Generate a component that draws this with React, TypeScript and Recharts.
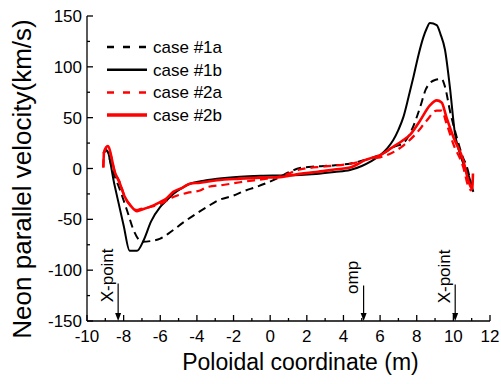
import React from 'react';
import {
  LineChart,
  Line,
  XAxis,
  YAxis,
  ReferenceLine,
} from 'recharts';

// x ticks (every 1 m, labels on even values) and y ticks (every 25, labels every 50)
const xTicks = [-10, -9, -8, -7, -6, -5, -4, -3, -2, -1, 0, 1, 2, 3, 4, 5, 6, 7, 8, 9, 10, 11, 12];
const yTicks = [-150, -125, -100, -75, -50, -25, 0, 25, 50, 75, 100, 125, 150];

// case #1a (black dashed)
const x1a = [-9.1, -8.95, -8.6, -8.18, -7.8, -7.45, -7.0, -6.4, -6.0, -5.4, -4.74, -4.0, -3.47, -2.8, -2.0, -1.4, -0.74, 0.35, 1.1, 1.63, 2.5, 3.45, 4.4, 5.27, 5.8, 6.3, 6.72, 7.27, 7.8, 8.18, 8.5, 8.72, 9.0, 9.36, 9.55, 9.81, 10.18, 10.5, 10.73, 11.0];
const v1a = [15, 18, -2, -22, -42, -61, -72, -71, -69, -62, -53, -44, -38, -31, -26.6, -22, -18, -10, -3, 0.5, 2, 3, 5, 9, 12, 16, 21, 25, 41, 60, 78, 84, 87, 88, 80, 57, 31, 12, 2, -18];

// case #1b (black solid)
const x1b = [-9.1, -8.93, -8.5, -8.0, -7.67, -7.27, -6.92, -6.5, -6.01, -5.63, -5.29, -4.8, -4.38, -3.8, -2.9, -1.65, -0.5, 0.53, 1.63, 2.5, 3.5, 4.36, 5.0, 5.5, 6.0, 6.4, 6.72, 7.0, 7.27, 7.55, 7.82, 8.1, 8.36, 8.55, 8.72, 9.09, 9.3, 9.54, 9.81, 10.09, 10.3, 10.54, 10.8, 11.0, 11.09];
const v1b = [15, 18, -16, -56, -81, -81, -71, -52, -38, -31, -25, -19, -15, -12.5, -10, -8, -7.2, -6.9, -6.5, -5.5, -3.5, -1.5, 2.5, 7, 13, 20, 28, 38, 50.5, 70, 90, 112, 129, 138, 143, 141, 132, 117, 80, 34, 18, 5, -5, -17, -23];

// case #2a (red dashed)
const x2a = [-9.11, -9.07, -8.87, -8.47, -8.2, -7.96, -7.6, -7.27, -7.11, -6.6, -6.01, -5.29, -4.54, -3.83, -3.47, -2.5, -1.65, -0.19, 0.53, 1.63, 3.0, 4.36, 5.63, 6.0, 7.27, 8.0, 8.54, 9.09, 9.36, 9.63, 10.0, 10.54, 10.82, 11.0];
const v2a = [1, 16, 21, -4, -14, -27, -37, -41, -40, -38, -35, -28, -24, -21.6, -18.4, -16, -13.5, -10, -8, -1, 2, 4.6, 10, 11, 22.6, 35, 47, 57, 57, 44, 24, 1.3, -18, -22];

// case #2b (red solid)
const x2b = [-9.11, -9.07, -8.87, -8.47, -8.2, -7.96, -7.6, -7.27, -7.11, -6.6, -6.01, -5.63, -5.29, -4.8, -4.38, -3.83, -2.9, -1.65, -0.5, 0.53, 1.63, 2.5, 3.5, 4.36, 5.27, 5.99, 6.6, 7.27, 7.63, 8.18, 8.72, 9.09, 9.36, 9.63, 10.0, 10.54, 10.82, 11.03, 11.07];
const v2b = [1, 16, 22, -4, -15, -27, -37, -42, -41, -38, -33, -29, -23, -19, -15, -14, -11.5, -10, -9, -8.5, -5.3, -3.5, -1, 1, 9, 13, 20, 28, 33, 47, 62, 67, 65, 50, 31, 8, -12, -20, -5];

const toRows = (xs: number[], vs: number[]) => xs.map((x, i) => ({ x, v: vs[i] }));

const series = [
  { name: 'case #1a', data: toRows(x1a, v1a), color: '#000000', dash: '8 5', width: 2, legendWidth: 2.5, legendDash: '7 9' },
  { name: 'case #1b', data: toRows(x1b, v1b), color: '#000000', dash: undefined, width: 2, legendWidth: 2.5, legendDash: undefined },
  { name: 'case #2a', data: toRows(x2a, v2a), color: '#ff0000', dash: '8 5', width: 2.2, legendWidth: 2.5, legendDash: '7 9' },
  { name: 'case #2b', data: toRows(x2b, v2b), color: '#ff0000', dash: undefined, width: 2.6, legendWidth: 3.5, legendDash: undefined },
];

// annotation arrows: position on x and label
const markers = [
  { x: -8.3, top: -113, label: 'X-point' },
  { x: 5.1, top: -115, label: 'omp' },
  { x: 10.1, top: -114, label: 'X-point' },
];

const FONT = 'Arial, "Liberation Sans", Helvetica, sans-serif';

const BottomTick = (props: any) => {
  const { x, y, payload } = props;
  const major = payload.value % 2 === 0;
  return (
    <g>
      <line x1={x} x2={x} y1={y} y2={y - (major ? 6 : 3)} stroke="#000" strokeWidth={1.3} />
      {major && (
        <text x={x} y={y + 21} textAnchor="middle" fontSize={17} fill="#000" fontFamily={FONT}>
          {payload.value}
        </text>
      )}
    </g>
  );
};

const TopTick = (props: any) => {
  const { x, y, payload } = props;
  const major = payload.value % 2 === 0;
  return <line x1={x} x2={x} y1={y} y2={y + (major ? 6 : 3)} stroke="#000" strokeWidth={1.3} />;
};

const LeftTick = (props: any) => {
  const { x, y, payload } = props;
  const major = payload.value % 50 === 0;
  return (
    <g>
      <line x1={x} x2={x + (major ? 6 : 3)} y1={y} y2={y} stroke="#000" strokeWidth={1.3} />
      {major && (
        <text x={x - 5} y={y + 6} textAnchor="end" fontSize={17} fill="#000" fontFamily={FONT}>
          {payload.value}
        </text>
      )}
    </g>
  );
};

const RightTick = (props: any) => {
  const { x, y, payload } = props;
  const major = payload.value % 50 === 0;
  return <line x1={x} x2={x - (major ? 6 : 3)} y1={y} y2={y} stroke="#000" strokeWidth={1.3} />;
};

const arrowShape = (label: string) => (props: any) => {
  const { x1, y1, y2 } = props;
  const top = Math.min(y1, y2);
  const bottom = Math.max(y1, y2);
  return (
    <g>
      <line x1={x1} x2={x1} y1={top} y2={bottom - 5} stroke="#000" strokeWidth={1.2} />
      <polygon points={`${x1 - 3},${bottom - 8} ${x1 + 3},${bottom - 8} ${x1},${bottom}`} fill="#000" />
      <text
        transform={`translate(${x1 - 11},${top - 8}) rotate(-90)`}
        textAnchor="middle"
        dominantBaseline="central"
        fontSize={17}
        fill="#000"
        fontFamily={FONT}
      >
        {label}
      </text>
    </g>
  );
};

const ChartLegend = () => (
  <svg width={150} height={100} style={{ position: 'absolute', left: 100, top: 30, display: 'block' }}>
    {series.map((s, i) => {
      const y = 17 + i * 22.7;
      return (
        <g key={s.name}>
          <line x1={7} x2={47} y1={y} y2={y} stroke={s.color} strokeWidth={s.legendWidth} strokeDasharray={s.legendDash} />
          <text x={53} y={y + 6} fontSize={17} fill="#000" fontFamily={FONT}>
            {s.name}
          </text>
        </g>
      );
    })}
  </svg>
);

const App = () => {
  return (
    <div style={{ position: 'absolute', left: 0, top: 0, width: 501, height: 384, background: '#fff' }}>
      <LineChart width={501} height={384} margin={{ top: 16, right: 11, left: 0, bottom: 0 }} style={{ fontFamily: FONT }}>
        <XAxis
          dataKey="x"
          type="number"
          domain={[-10, 12]}
          ticks={xTicks}
          interval={0}
          tick={BottomTick}
          tickLine={false}
          tickSize={0}
          tickMargin={0}
          height={63}
          allowDataOverflow
          axisLine={{ stroke: '#000', strokeWidth: 1.3 }}
          label={() => (
            <text x={300.5} y={370} textAnchor="middle" fontSize={23} fill="#000" fontFamily={FONT}>
              Poloidal coordinate (m)
            </text>
          )}
        />
        <XAxis
          xAxisId="top"
          orientation="top"
          type="number"
          domain={[-10, 12]}
          ticks={xTicks}
          interval={0}
          tick={TopTick}
          tickLine={false}
          tickSize={0}
          tickMargin={0}
          height={0}
          allowDataOverflow
          axisLine={{ stroke: '#000', strokeWidth: 1.3 }}
        />
        <YAxis
          type="number"
          domain={[-150, 150]}
          ticks={yTicks}
          interval={0}
          tick={LeftTick}
          tickLine={false}
          tickSize={0}
          tickMargin={0}
          width={87}
          allowDataOverflow
          axisLine={{ stroke: '#000', strokeWidth: 1.3 }}
          label={() => (
            <text transform="translate(31,179) rotate(-90)" textAnchor="middle" fontSize={26} fill="#000" fontFamily={FONT}>
              Neon parallel velocity(km/s)
            </text>
          )}
        />
        <YAxis
          yAxisId="right"
          orientation="right"
          type="number"
          domain={[-150, 150]}
          ticks={yTicks}
          interval={0}
          tick={RightTick}
          tickLine={false}
          tickSize={0}
          tickMargin={0}
          width={0}
          allowDataOverflow
          axisLine={{ stroke: '#000', strokeWidth: 1.3 }}
        />
        {series.map((s) => (
          <Line
            key={s.name}
            data={s.data}
            dataKey="v"
            name={s.name}
            type="monotone"
            stroke={s.color}
            strokeWidth={s.width}
            strokeDasharray={s.dash}
            dot={false}
            activeDot={false}
            isAnimationActive={false}
          />
        ))}
        {markers.map((m, i) => (
          <ReferenceLine
            key={i}
            segment={[{ x: m.x, y: m.top }, { x: m.x, y: -150 }]}
            shape={arrowShape(m.label)}
          />
        ))}
      </LineChart>
      <ChartLegend />
    </div>
  );
};

export default App;
